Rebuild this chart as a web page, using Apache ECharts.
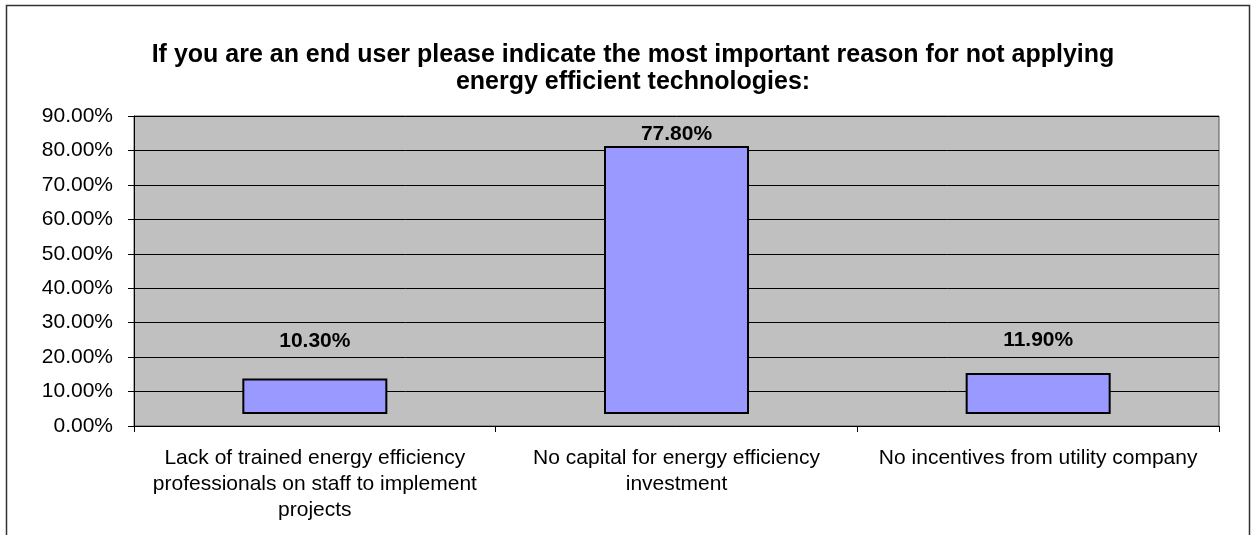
<!DOCTYPE html>
<html>
<head>
<meta charset="utf-8">
<script src="https://cdn.jsdelivr.net/npm/echarts@6/dist/echarts.min.js"></script>
<style>
  html, body { margin: 0; padding: 0; background: #fff; }
  #main { width: 1252px; height: 535px; }
</style>
</head>
<body>
<div id="main"></div>
<script>
var categories = [
  'Lack of trained energy efficiency\nprofessionals on staff to implement\nprojects',
  'No capital for energy efficiency\ninvestment',
  'No incentives from utility company'
];
var values = [10.3, 77.8, 11.9];
// bars in the source sit a little above the zero line (old 3D chart offset)
var barOffset = [3.5, 3.5, 3.5];
var labelGap = [27, 1, 22];
var yTicks = [0, 10, 20, 30, 40, 50, 60, 70, 80, 90];

var FONT = 'Liberation Sans, Arial, sans-serif';
var myChart = echarts.init(document.getElementById('main'));

var option = {
  backgroundColor: '#fff',
  animation: false,
  textStyle: { fontFamily: FONT },
  title: {
    text: 'If you are an end user please indicate the most important reason for not applying\nenergy efficient technologies:',
    left: 628,
    top: 37,
    textAlign: 'center',
    textStyle: {
      fontFamily: FONT,
      fontSize: 25,
      fontWeight: 'bold',
      color: '#000',
      lineHeight: 27
    }
  },
  graphic: [{
    type: 'rect',
    shape: { x: 6.5, y: 5.5, width: 1243, height: 600 },
    style: { fill: 'none', stroke: '#333', lineWidth: 1.5 },
    silent: true
  }],
  grid: {
    left: 134,
    right: 33,
    top: 116,
    bottom: 109,
    show: true,
    backgroundColor: '#C0C0C0',
    borderColor: '#555',
    borderWidth: 1
  },
  xAxis: {
    type: 'category',
    data: categories,
    axisLine: { lineStyle: { color: '#000', width: 1 } },
    axisTick: { show: true, alignWithLabel: false, length: 6, lineStyle: { color: '#000' } },
    axisLabel: {
      interval: 0,
      margin: 19,
      fontSize: 21,
      lineHeight: 26,
      color: '#000',
      fontFamily: FONT
    },
    splitLine: { show: false }
  },
  yAxis: {
    type: 'value',
    min: yTicks[0],
    max: yTicks[yTicks.length - 1],
    interval: 10,
    axisLine: { show: true, lineStyle: { color: '#000' } },
    axisTick: { show: true, length: 6, lineStyle: { color: '#000' } },
    axisLabel: {
      margin: 21,
      fontSize: 21,
      color: '#000',
      fontFamily: FONT,
      formatter: function (v) { return v.toFixed(2) + '%'; }
    },
    splitLine: { show: true, lineStyle: { color: '#000', width: 1 } }
  },
  series: [
    {
      name: 'offset',
      type: 'bar',
      stack: 'a',
      silent: true,
      barWidth: 145,
      itemStyle: { color: 'rgba(0,0,0,0)' },
      data: barOffset
    },
    {
      name: 'share',
      type: 'bar',
      stack: 'a',
      barWidth: 145,
      itemStyle: { color: '#9999FF', borderColor: '#000', borderWidth: 2 },
      data: values.map(function (v, i) {
        return {
          value: v,
          label: { distance: labelGap[i] }
        };
      }),
      label: {
        show: true,
        position: 'top',
        fontSize: 21,
        fontWeight: 'bold',
        color: '#000',
        fontFamily: FONT,
        formatter: function (p) { return p.value.toFixed(2) + '%'; }
      }
    }
  ]
};

myChart.setOption(option);
</script>
</body>
</html>
